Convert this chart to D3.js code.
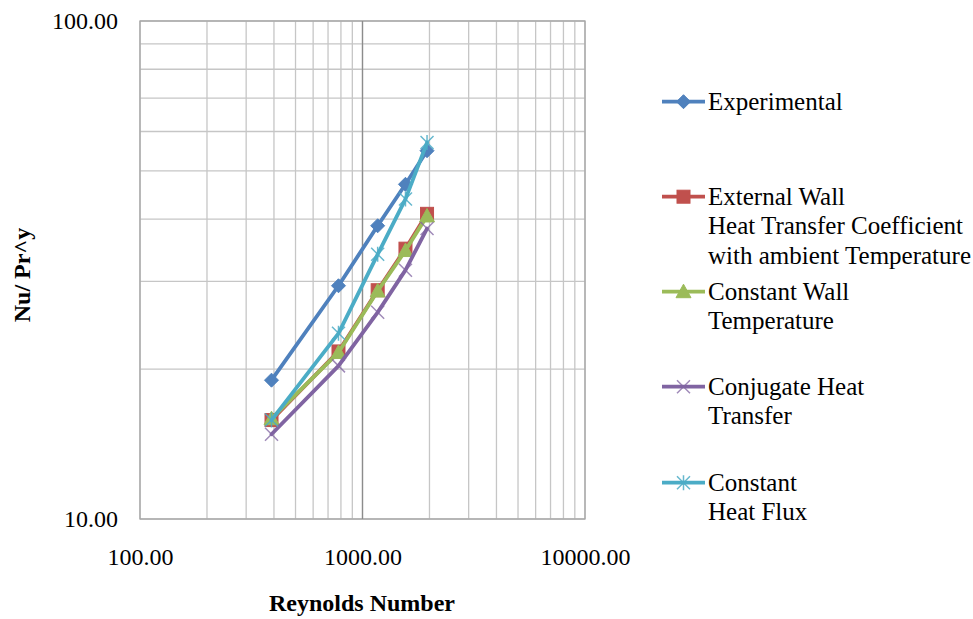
<!DOCTYPE html>
<html>
<head>
<meta charset="utf-8">
<script src="https://cdn.jsdelivr.net/npm/d3@7"></script>
<style>
  html, body { margin: 0; padding: 0; background: #fff; }
  svg { display: block; }
</style>
</head>
<body>
<svg id="chart" width="973" height="619"></svg>
<script>
// Reynolds numbers of the test runs
const reynolds = [390, 780, 1170, 1560, 1950];

// Nu/Pr^y for each case
const experimental      = [19.0, 29.4, 38.8, 47.0, 54.9];
const externalWall      = [15.8, 21.7, 28.8, 34.9, 41.0];
const constantWallTemp  = [15.9, 21.6, 28.7, 34.6, 40.6];
const conjugateHeat     = [14.8, 20.3, 26.0, 31.6, 38.3];
const constantHeatFlux  = [15.8, 23.6, 34.0, 43.9, 57.0];

const seriesNames = [
  ["Experimental"],
  ["External Wall", "Heat Transfer Coefficient", "with ambient Temperature"],
  ["Constant Wall", "Temperature"],
  ["Conjugate Heat", "Transfer"],
  ["Constant", "Heat Flux"]
];
const seriesColors = ["#4F81BD", "#C0504D", "#9BBB59", "#8064A2", "#4BACC6"];
const seriesMarkers = ["diamond", "square", "triangle", "x", "star"];
const seriesValues = [experimental, externalWall, constantWallTemp, conjugateHeat, constantHeatFlux];

const xDomain = [100, 10000];
const yDomain = [10, 100];
const SERIF = "Liberation Serif, Times New Roman, serif";

const svg = d3.select("#chart");
const plot = { left: 140, right: 585, top: 21, bottom: 519 };

const x = d3.scaleLog().domain(xDomain).range([plot.left, plot.right]);
const y = d3.scaleLog().domain(yDomain).range([plot.bottom, plot.top]);
const fmt = d3.format(".2f");

// grid lines
const grid = svg.append("g");
grid.selectAll("line.v").data(x.ticks()).join("line")
  .attr("x1", d => x(d)).attr("x2", d => x(d))
  .attr("y1", plot.top).attr("y2", plot.bottom)
  .attr("stroke", "#c6c6c6").attr("stroke-width", 1.3);
grid.selectAll("line.h").data(y.ticks()).join("line")
  .attr("x1", plot.left).attr("x2", plot.right)
  .attr("y1", d => y(d)).attr("y2", d => y(d))
  .attr("stroke", "#c6c6c6").attr("stroke-width", 1.3);

// plot frame
svg.append("rect")
  .attr("x", plot.left).attr("y", plot.top)
  .attr("width", plot.right - plot.left).attr("height", plot.bottom - plot.top)
  .attr("fill", "none").attr("stroke", "#a6a6a6").attr("stroke-width", 1.3);

// vertical axis line crosses at Re = 1000
svg.append("line")
  .attr("x1", x(1000)).attr("x2", x(1000))
  .attr("y1", plot.top).attr("y2", plot.bottom)
  .attr("stroke", "#8c8c8c").attr("stroke-width", 1.3);

// axes labels (decades only)
const xAxis = d3.axisBottom(x).tickValues([100, 1000, 10000]).tickFormat(fmt).tickSize(0).tickPadding(0);
const gx = svg.append("g").attr("transform", `translate(0,${plot.bottom + 46})`).call(xAxis)
  .attr("font-family", SERIF).attr("font-size", 24);
gx.select(".domain").remove();
gx.selectAll("text").attr("dy", 0).attr("fill", "#000");

const yAxis = d3.axisLeft(y).tickValues([10, 100]).tickFormat(fmt).tickSize(0).tickPadding(0);
const gy = svg.append("g").attr("transform", `translate(118,0)`).call(yAxis)
  .attr("font-family", SERIF).attr("font-size", 24);
gy.select(".domain").remove();
gy.selectAll("text").attr("dy", "0.33em").attr("fill", "#000");

// axis titles
svg.append("text")
  .attr("x", 362).attr("y", 611)
  .attr("font-family", SERIF)
  .attr("text-anchor", "middle").attr("font-size", 24).attr("font-weight", "bold")
  .text("Reynolds Number");
svg.append("text")
  .attr("transform", "translate(30,275) rotate(-90)")
  .attr("font-family", SERIF)
  .attr("text-anchor", "middle").attr("font-size", 24).attr("font-weight", "bold")
  .text("Nu/ Pr^y");

// marker drawing
function drawMarker(g, type, color, cx, cy) {
  if (type === "diamond") {
    const r = 7;
    g.append("path").attr("d", `M${cx},${cy - r}L${cx + r},${cy}L${cx},${cy + r}L${cx - r},${cy}Z`)
      .attr("fill", color).attr("stroke", color).attr("stroke-width", 1);
  } else if (type === "square") {
    const r = 6.5;
    g.append("rect").attr("x", cx - r).attr("y", cy - r).attr("width", 2 * r).attr("height", 2 * r)
      .attr("fill", color).attr("stroke", color).attr("stroke-width", 1);
  } else if (type === "triangle") {
    const r = 7.5;
    g.append("path").attr("d", `M${cx},${cy - r}L${cx + r},${cy + r * 0.8}L${cx - r},${cy + r * 0.8}Z`)
      .attr("fill", color).attr("stroke", color).attr("stroke-width", 1);
  } else if (type === "x") {
    const r = 6.5;
    g.append("path").attr("d", `M${cx - r},${cy - r}L${cx + r},${cy + r}M${cx - r},${cy + r}L${cx + r},${cy - r}`)
      .attr("stroke", color).attr("stroke-width", 1.5).attr("fill", "none").attr("opacity", 0.75);
  } else if (type === "star") {
    const r = 6.5;
    g.append("path").attr("d", `M${cx - r},${cy - r}L${cx + r},${cy + r}M${cx - r},${cy + r}L${cx + r},${cy - r}M${cx},${cy - r - 1}L${cx},${cy + r + 1}`)
      .attr("stroke", color).attr("stroke-width", 1.5).attr("fill", "none").attr("opacity", 0.85);
  }
}

const line = d3.line().x(d => x(d[0])).y(d => y(d[1]));

seriesValues.forEach((vals, i) => {
  const pts = reynolds.map((r, j) => [r, vals[j]]);
  const g = svg.append("g");
  g.append("path").attr("d", line(pts))
    .attr("fill", "none").attr("stroke", seriesColors[i]).attr("stroke-width", 3.8)
    .attr("stroke-linejoin", "round").attr("stroke-linecap", "round");
  pts.forEach(p => drawMarker(g, seriesMarkers[i], seriesColors[i], x(p[0]), y(p[1])));
});

// legend
const legendTop = [101.7, 196.7, 291.7, 386.7, 482.7];
const lg = svg.append("g");
seriesNames.forEach((lines, i) => {
  const cy = legendTop[i];
  lg.append("line").attr("x1", 662).attr("x2", 705).attr("y1", cy).attr("y2", cy)
    .attr("stroke", seriesColors[i]).attr("stroke-width", 3.8);
  drawMarker(lg, seriesMarkers[i], seriesColors[i], 683.5, cy);
  const t = lg.append("text").attr("x", 708).attr("y", cy)
    .attr("font-family", SERIF).attr("font-size", 25).attr("fill", "#000");
  lines.forEach((s, k) => {
    t.append("tspan").attr("x", 708).attr("dy", k === 0 ? "0.33em" : 29.3).text(s);
  });
});
</script>
</body>
</html>
